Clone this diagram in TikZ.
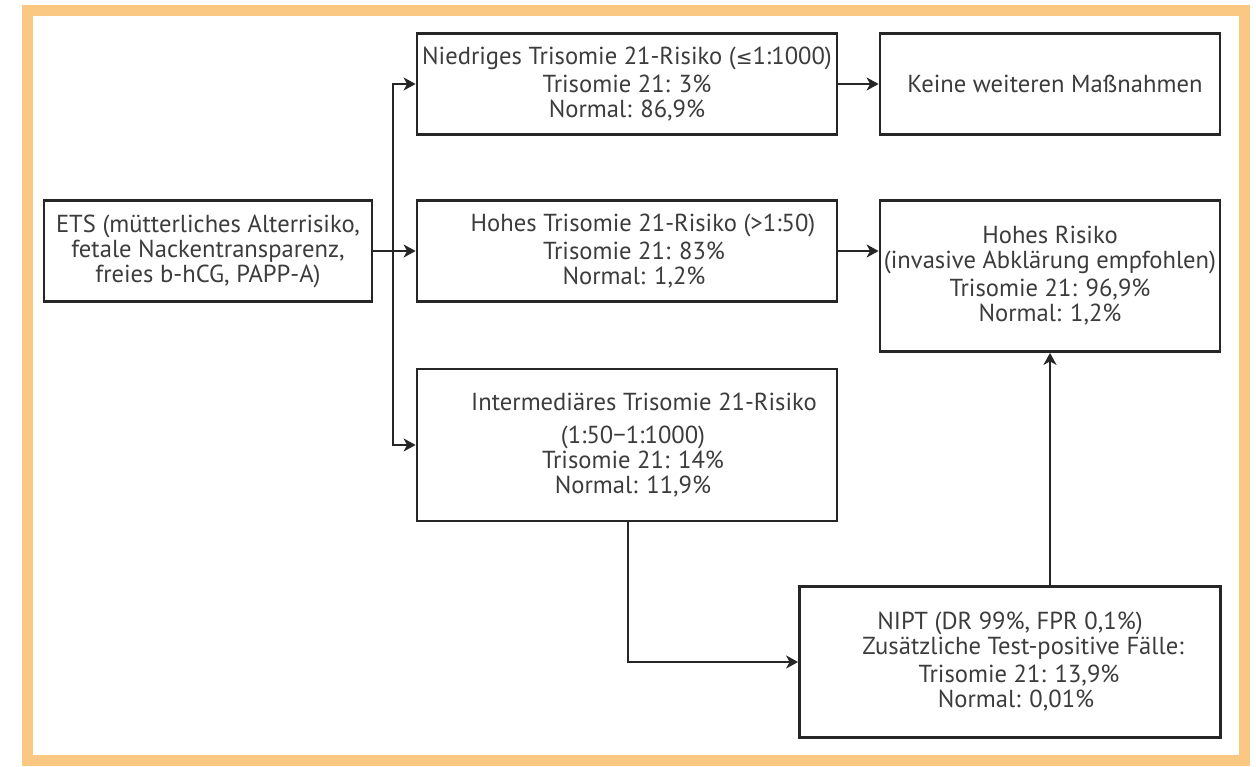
\documentclass[tikz,border=0pt]{standalone}
\usepackage{fontspec}
\setmainfont{PT Sans}
\newfontfamily\symfont{DejaVu Sans}
\usetikzlibrary{arrows.meta}
\definecolor{frameorange}{HTML}{FAC882}
\definecolor{linecol}{HTML}{262626}
\definecolor{textcol}{HTML}{3C3C3C}
\begin{document}
\begin{tikzpicture}[x=1pt,y=-1pt,
  box/.style={draw=linecol,line width=2.8pt,fill=white,inner sep=0pt,align=center,
    text=textcol,font=\fontsize{24.6}{25}\selectfont},
  arr/.style={draw=linecol,line width=2.8pt,-{Stealth[length=12pt,width=13pt,inset=3.5pt]}},
  ]
\useasboundingbox (0,0) rectangle (1256,767);
\fill[white] (0,0) rectangle (1256,767);
\draw[frameorange,line width=11pt] (27,10.5) rectangle (1244.5,760.5);

\node[box,minimum width=328pt,minimum height=101pt] (ets) at (208,251)
  {ETS (mütterliches Alterrisiko,\\fetale Nackentransparenz,\\freies b-hCG, PAPP-A)};
\node[box,minimum width=420pt,minimum height=101pt] (low) at (627,84)
  {Niedriges Trisomie 21-Risiko ({\symfont\fontsize{20}{25}\selectfont ≤}1:1000)\\[3pt]Trisomie 21: 3\%\\Normal: 86,9\%};
\node[box,minimum width=340pt,minimum height=101pt] (none) at (1050,84)
  {\hspace*{10pt}Keine weiteren Maßnahmen};
\node[box,minimum width=420pt,minimum height=101pt] (high) at (627,251)
  {\hspace*{32pt}Hohes Trisomie 21-Risiko (>1:50)\\[3pt]\hspace*{14pt}Trisomie 21: 83\%\\\hspace*{14pt}Normal: 1,2\%};
\node[box,minimum width=340pt,minimum height=151pt] (hr) at (1050,276)
  {Hohes Risiko\\(invasive Abklärung empfohlen)\\[3pt]Trisomie 21: 96,9\%\\Normal: 1,2\%};
\node[box,minimum width=420pt,minimum height=152pt] (mid) at (627,445)
  {\hspace*{34pt}Intermediäres Trisomie 21-Risiko\\[8pt]\hspace*{12pt}(1:50−1:1000)\\\hspace*{12pt}Trisomie 21: 14\%\\\hspace*{12pt}Normal: 11,9\%};
\node[box,minimum width=421pt,minimum height=151pt] (nipt) at (1010,662)
  {NIPT (DR 99\%, FPR 0,1\%)\\\hspace*{26pt}Zusätzliche Test-positive Fälle:\\[3pt]\hspace*{18pt}Trisomie 21: 13,9\%\\\hspace*{12pt}Normal: 0,01\%};

\coordinate (t) at (393,0);
\draw[arr] (ets.east) -- (high.west);
\draw[arr] (t |- mid.west) |- (low.west);
\draw[arr] (t |- low.west) |- (mid.west);
\draw[arr] (low.east) -- (none.west);
\draw[arr] (high.east) -- (high.east -| hr.west);
\draw[arr] ([xshift=1pt]mid.south) |- (nipt.west);
\draw[arr] (hr.south |- nipt.north) -- (hr.south);
\end{tikzpicture}
\end{document}
